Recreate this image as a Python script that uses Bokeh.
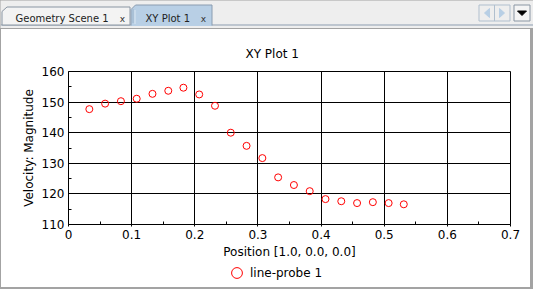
from bokeh.plotting import figure
from bokeh.layouts import column
from bokeh.models import (FixedTicker, Legend, LegendItem, ColumnDataSource, Range1d)
from bokeh.core.properties import value
from bokeh.embed import file_html
from bokeh.resources import INLINE

# ---- data ----
position = [0.033, 0.058, 0.083, 0.108, 0.133, 0.158, 0.182, 0.207, 0.232, 0.257,
            0.282, 0.307, 0.332, 0.357, 0.382, 0.407, 0.432, 0.457, 0.482, 0.507, 0.531]
velocity = [147.7, 149.5, 150.3, 151.1, 152.7, 153.7, 154.7, 152.5, 148.8, 140.0,
            135.7, 131.7, 125.4, 122.9, 120.9, 118.3, 117.6, 117.0, 117.3, 117.0, 116.6]
x_ticks = [0, 0.1, 0.2, 0.3, 0.4, 0.5, 0.6, 0.7]
x_minor = [0.05, 0.15, 0.25, 0.35, 0.45, 0.55, 0.65]
y_ticks = [110, 120, 130, 140, 150, 160]
y_minor = [115, 125, 135, 145, 155]
series_name = "line-probe 1"
tab_names = ["Geometry Scene 1", "XY Plot 1"]
plot_title = "XY Plot 1"
x_label = "Position [1.0, 0.0, 0.0]"
y_label = "Velocity: Magnitude"

FONT = "DejaVu Sans"
MARKER = dict(marker="circle", fill_color=None, line_color="red", line_width=1)

# ---------------- tab bar ----------------
tb = figure(width=533, height=28, output_backend="svg", toolbar_location=None,
            x_range=Range1d(0, 533), y_range=Range1d(28, 0),
            min_border=0, outline_line_color=None,
            background_fill_color="#eeeeee", border_fill_color="#eeeeee")
tb.axis.visible = False
tb.grid.visible = False

tb.segment(x0=[0], y0=[24.5], x1=[533], y1=[24.5], line_color="#8d9db0", line_width=1)
tb.patch(x=[1.5, 1.5, 6.5, 129.5, 129.5], y=[24.5, 11, 6.5, 6.5, 24.5],
         fill_color="#f3f3f3", line_color="#8a96a3", line_width=1)
tb.patch(x=[130.5, 130.5, 135, 211.5, 211.5], y=[25.5, 9, 4.5, 4.5, 25.5],
         fill_color="#b8cfe5", line_color=None)
tb.line(x=[130.5, 130.5, 135, 211.5, 211.5], y=[25, 9, 4.5, 4.5, 25],
        line_color="#8a9cb0", line_width=1)
tb.line(x=[132.5, 132.5], y=[9, 23], line_color="#7f95ad", line_dash="1 1")
tb.line(x=[134.5, 134.5], y=[10, 23], line_color="#ffffff", line_dash="1 1")

tb.text(x=[15, 145], y=[18, 18], text=tab_names, text_font=value(FONT),
        text_font_size="10px", text_color="#222222", text_baseline="alphabetic")
tb.text(x=[122, 203], y=[18, 18], text=["x", "x"], text_font=value(FONT),
        text_font_size="9px", text_color="#333333", text_baseline="alphabetic",
        text_align="center")

tb.quad(left=[478.5, 513.5], right=[509.5, 529.5], top=[4.5, 4.5], bottom=[20.5, 20.5],
        fill_color=["#eeeeee", "#f4f4f4"], line_color=["#b0bfce", "#8a96a3"])
tb.segment(x0=[494], y0=[4.5], x1=[494], y1=[20.5], line_color="#b0bfce")
tb.patches(xs=[[484, 489, 489], [499, 504, 499]], ys=[[12.5, 8, 17], [8, 12.5, 17]],
           fill_color="#b8cfe5", line_color="#b8cfe5")
tb.patch(x=[517, 526, 521.5], y=[10.5, 10.5, 15], fill_color="black", line_color="black")

# ---------------- main plot ----------------
p = figure(width=528, height=233, frame_width=442, frame_height=153,
           output_backend="svg", toolbar_location=None,
           x_range=Range1d(0, 0.7), y_range=Range1d(110, 160),
           min_border_left=66, min_border_right=20, min_border_top=42, min_border_bottom=38,
           border_fill_color="white", background_fill_color="white",
           outline_line_color="black", outline_line_width=1,
           margin=(0, 0, 0, 1))

p.title.text = plot_title
p.title.text_font = FONT
p.title.text_font_size = "12px"
p.title.text_font_style = "normal"
p.title.text_color = "black"
p.title.align = "left"
p.title.offset = 177
p.title.standoff = 22

for ax in (p.xaxis[0], p.yaxis[0]):
    ax.axis_line_color = "black"
    ax.major_tick_line_color = "black"
    ax.minor_tick_line_color = "black"
    ax.major_tick_in = 0
    ax.minor_tick_in = 3
    ax.minor_tick_out = 0
    ax.major_label_text_font = FONT
    ax.major_label_text_font_size = "12px"
    ax.major_label_text_color = "black"
    ax.axis_label_text_font = FONT
    ax.axis_label_text_font_size = "12px"
    ax.axis_label_text_font_style = "normal"
    ax.axis_label_text_color = "black"

p.xaxis[0].ticker = FixedTicker(ticks=x_ticks, minor_ticks=x_minor)
p.yaxis[0].ticker = FixedTicker(ticks=y_ticks, minor_ticks=y_minor)
p.xaxis[0].axis_label = x_label
p.yaxis[0].axis_label = y_label
p.xaxis[0].major_tick_out = 2
p.yaxis[0].major_tick_out = 0
p.xaxis[0].major_label_standoff = 3
p.yaxis[0].major_label_standoff = 4
p.xaxis[0].axis_label_standoff = 3
p.yaxis[0].axis_label_standoff = 3

for g in (p.xgrid[0], p.ygrid[0]):
    g.grid_line_color = "black"
    g.grid_line_width = 1
p.xgrid[0].ticker = FixedTicker(ticks=x_ticks)
p.ygrid[0].ticker = FixedTicker(ticks=y_ticks)

src = ColumnDataSource(dict(x=position, y=velocity))
p.scatter("x", "y", source=src, size=7, **MARKER)

# ---------------- legend strip (key for the series) ----------------
lg = figure(width=528, height=25, output_backend="svg", toolbar_location=None,
            x_range=Range1d(0, 0.7), y_range=Range1d(0, 1),
            min_border_left=66, min_border_right=20, min_border_top=0, min_border_bottom=0,
            outline_line_color=None, background_fill_color="white",
            border_fill_color="white", margin=(0, 0, 0, 1))
lg.axis.visible = False
lg.grid.visible = False
key = lg.scatter("x", "y", source=src, size=7, **MARKER)
legend = Legend(items=[LegendItem(label=series_name, renderers=[key])],
                location=(155, 1), orientation="horizontal",
                label_text_font=FONT, label_text_font_size="12px",
                label_text_color="black",
                glyph_width=27, glyph_height=27, label_standoff=-8,
                padding=0, margin=0, spacing=0, border_line_color=None,
                background_fill_alpha=0)
lg.add_layout(legend)

panel = column(p, lg, styles={"background-color": "white"}, margin=(1, 1, 2, 1))
page = column(tb, panel, styles={"background-color": "#a3a3a3"})

with open("out.html", "w") as f:
    f.write(file_html(page, INLINE))
